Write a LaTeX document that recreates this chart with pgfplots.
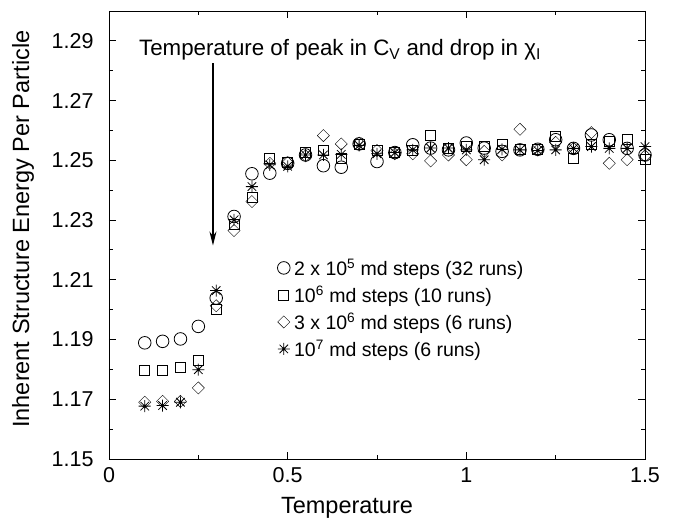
\documentclass[border=0pt]{standalone}
\usepackage{fontspec}
\setmainfont{Liberation Sans}
\usepackage{pgfplots}
\usepackage{pgfplotstable}
\pgfplotsset{compat=1.18}
\usetikzlibrary{arrows.meta}

\pgfdeclareplotmark{star8}{%
  \pgfpathmoveto{\pgfqpoint{0pt}{\pgfplotmarksize}}%
  \pgfpathlineto{\pgfqpoint{0pt}{-\pgfplotmarksize}}%
  \pgfpathmoveto{\pgfqpoint{\pgfplotmarksize}{0pt}}%
  \pgfpathlineto{\pgfqpoint{-\pgfplotmarksize}{0pt}}%
  \pgfpathmoveto{\pgfqpoint{.707\pgfplotmarksize}{.707\pgfplotmarksize}}%
  \pgfpathlineto{\pgfqpoint{-.707\pgfplotmarksize}{-.707\pgfplotmarksize}}%
  \pgfpathmoveto{\pgfqpoint{-.707\pgfplotmarksize}{.707\pgfplotmarksize}}%
  \pgfpathlineto{\pgfqpoint{.707\pgfplotmarksize}{-.707\pgfplotmarksize}}%
  \pgfusepathqstroke
  \pgfpathcircle{\pgfpointorigin}{.25\pgfplotmarksize}%
  \pgfusepathqfill
}

\pgfplotstableread{
T    c1     c2     c3     c4
0.10 1.1889 1.1796 1.1690 1.1677
0.15 1.1894 1.1796 1.1693 1.1679
0.20 1.1902 1.1808 1.1693 1.1690
0.25 1.1944 1.1829 1.1738 1.1799
0.30 1.2039 1.2002 1.2013 1.2064
0.35 1.2312 1.2284 1.2265 1.2301
0.40 1.2455 1.2375 1.2362 1.2412
0.45 1.2457 1.2507 1.2490 1.2485
0.50 1.2490 1.2492 1.2492 1.2480
0.55 1.2518 1.2526 1.2515 1.2518
0.60 1.2482 1.2533 1.2583 1.2518
0.65 1.2477 1.2507 1.2555 1.2520
0.70 1.2555 1.2553 1.2558 1.2550
0.75 1.2496 1.2533 1.2533 1.2522
0.80 1.2526 1.2526 1.2522 1.2526
0.85 1.2552 1.2532 1.2522 1.2535
0.90 1.2541 1.2582 1.2498 1.2541
0.95 1.2535 1.2541 1.2518 1.2541
1.00 1.2558 1.2548 1.2502 1.2535
1.05 1.2541 1.2546 1.2530 1.2502
1.10 1.2530 1.2552 1.2518 1.2537
1.15 1.2535 1.2535 1.2604 1.2535
1.20 1.2537 1.2535 1.2535 1.2533
1.25 1.2569 1.2580 1.2560 1.2535
1.30 1.2540 1.2507 1.2540 1.2540
1.35 1.2585 1.2552 1.2593 1.2546
1.40 1.2569 1.2565 1.2490 1.2540
1.45 1.2540 1.2571 1.2502 1.2540
1.50 1.2518 1.2502 1.2515 1.2546
}\data

\begin{document}
\begin{tikzpicture}
\begin{axis}[
  name=ax,
  scale only axis,
  width=536pt, height=448pt,
  xmin=0, xmax=1.5, ymin=1.15, ymax=1.30,
  xtick={0,0.5,1,1.5},
  xticklabels={0,0.5,1,1.5},
  minor xtick={0.25,0.75,1.25},
  ytick={1.15,1.17,1.19,1.21,1.23,1.25,1.27,1.29},
  yticklabels={1.15,1.17,1.19,1.21,1.23,1.25,1.27,1.29},
  minor ytick={1.16,1.18,1.20,1.22,1.24,1.26,1.28},
  tick align=inside,
  major tick length=7pt, minor tick length=4pt,
  tick style={black, line width=0.9pt},
  axis line style={line width=0.9pt},
  ticklabel style={font=\fontsize{21.5}{25}\selectfont},
  yticklabel style={xshift=-12pt},
  xticklabel style={yshift=-5pt},
  xlabel={Temperature},
  ylabel={Inherent Structure Energy Per Particle},
  every axis x label/.style={at={(axis description cs:0.444,-0.108)}, anchor=center,
    font=\fontsize{23.5}{28}\selectfont},
  every axis y label/.style={at={(axis description cs:-0.1604,0.513)}, rotate=90, anchor=center,
    font=\fontsize{23.5}{28}\selectfont},
  legend style={draw=none, fill=none, at={(rel axis cs:0.314,0.452)}, anchor=north west,
    font=\fontsize{19.5}{23}\selectfont, row sep=4.5pt, inner sep=0pt},
  legend cell align=left,
  mark options={solid, line width=0.8pt},
]
\addplot[only marks, mark=o, mark size=6.3pt] table[x=T, y=c1] {\data};
\addlegendentry{\hspace{2pt}2 x 10\textsuperscript{5} md steps (32 runs)}
\addplot[only marks, mark=square, mark size=5pt] table[x=T, y=c2] {\data};
\addlegendentry{\hspace{2pt}10\textsuperscript{6} md steps (10 runs)}
\addplot[only marks, mark=square, mark size=4.3pt, mark options={rotate=45}] table[x=T, y=c3] {\data};
\addlegendentry{\hspace{2pt}3 x 10\textsuperscript{6} md steps (6 runs)}
\addplot[only marks, mark=star8, mark size=6pt] table[x=T, y=c4] {\data};
\addlegendentry{\hspace{2pt}10\textsuperscript{7} md steps (6 runs)}
\draw[-{Stealth[length=14pt, width=7pt]}, line width=1.1pt] (axis cs:0.291,1.2825) -- (axis cs:0.291,1.2215);
\node[font=\fontsize{22.3}{26}\selectfont, anchor=center] at (axis cs:0.6465,1.2870)
  {Temperature of peak in C\textsubscript{V} and drop in χ\textsubscript{I}};
\end{axis}
\pgfresetboundingbox
\path ([xshift=-109pt,yshift=-58pt]ax.south west) rectangle ([xshift=32pt,yshift=11pt]ax.north east);
\end{tikzpicture}
\end{document}
